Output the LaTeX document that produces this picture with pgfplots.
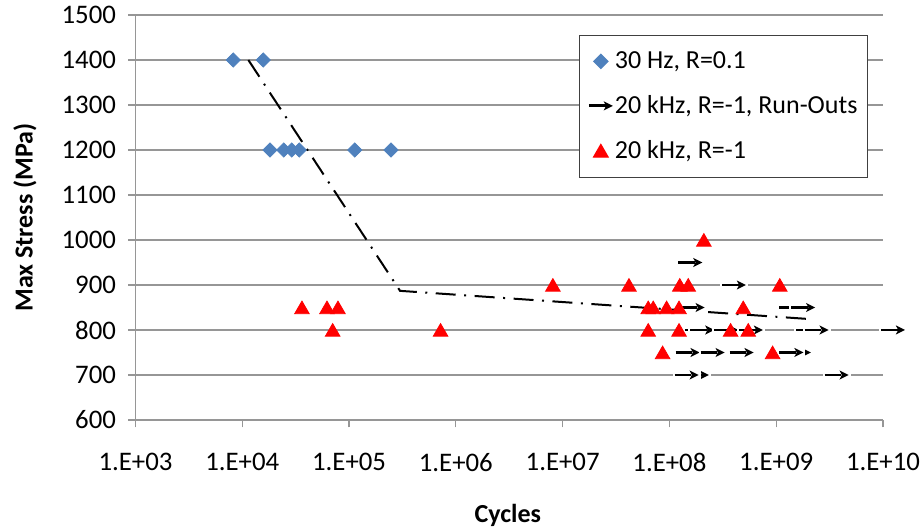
\documentclass[border=0pt]{standalone}
\usepackage{fontspec}
\setmainfont{Carlito}
\usepackage{pgfplots}
\pgfplotsset{compat=1.18}
\definecolor{xblue}{RGB}{79,129,189}
\definecolor{xred}{RGB}{255,0,0}
\definecolor{xgray}{RGB}{150,150,150}
\definecolor{xlegend}{RGB}{64,64,64}

\pgfdeclareplotmark{runout}{%
  \pgfinterruptboundingbox
  \pgfpathrectangle{\pgfpoint{-7pt}{-4pt}}{\pgfpoint{14pt}{8pt}}%
  \pgfsetfillcolor{white}\pgfusepath{fill}%
  \endpgfinterruptboundingbox
  \pgfsetlinewidth{1.45pt}\pgfsetbuttcap
  \pgfsetstrokecolor{black}\pgfsetfillcolor{black}%
  \pgfpathmoveto{\pgfpoint{-6pt}{0pt}}\pgfpathlineto{\pgfpoint{2.4pt}{0pt}}\pgfusepath{stroke}%
  \pgfpathmoveto{\pgfpoint{6pt}{0pt}}\pgfpathlineto{\pgfpoint{1.4pt}{2.3pt}}%
  \pgfpathlineto{\pgfpoint{2.6pt}{0pt}}\pgfpathlineto{\pgfpoint{1.4pt}{-2.3pt}}\pgfpathclose
  \pgfusepath{fill}%
}
\pgfplotsset{mylegimg/.style={legend image code/.code={\draw[mark repeat=2,mark phase=2,##1] plot coordinates {(0pt,0pt) (6pt,0pt) (12pt,0pt)};}}}

\begin{document}
\begin{tikzpicture}
\begin{axis}[
  name=ax,
  xmode=log, log basis x=10,
  scale only axis, width=373.75pt, height=202.5pt,
  xmin=1e3, xmax=1e10, ymin=600, ymax=1500,
  xtick={1e3,1e4,1e5,1e6,1e7,1e8,1e9,1e10},
  xticklabels={1.E+03,1.E+04,1.E+05,1.E+06,1.E+07,1.E+08,1.E+09,1.E+10},
  xminorticks=false,
  ytick={600,700,...,1500},
  ymajorgrids, major grid style={xgray, line width=0.6pt},
  axis x line*=bottom, axis y line*=left,
  axis line style={xgray, line width=0.6pt, -},
  tick align=outside, major tick length=3.75pt,
  major tick style={xgray, line width=0.6pt},
  tick label style={font=\fontsize{13.4}{15}\selectfont},
  xticklabel style={font=\fontsize{13.4}{15}\selectfont, yshift=-9.5pt},
  yticklabel style={font=\fontsize{13.4}{15}\selectfont, xshift=-2.5pt},
  /pgf/number format/assume math mode=true, /pgf/number format/1000 sep={},
  xlabel={Cycles}, ylabel={Max Stress (MPa)},
  label style={font=\fontsize{13}{15}\selectfont\bfseries},
  xlabel style={at={(axis description cs:0.498,-0.2346)}, anchor=center},
  ylabel style={at={(axis description cs:-0.1478,0.5)}, anchor=center},
  clip=false,
  legend cell align=left,
  legend style={at={(0.98,0.951)}, anchor=north east, draw=xlegend, line width=0.6pt,
    font=\fontsize{13}{15}\selectfont, inner xsep=4pt, inner ysep=6pt,
    row sep=8pt, nodes={inner xsep=1pt, inner ysep=2pt}},
]
\addplot[black, line width=1pt, dash pattern=on 10pt off 4.25pt on 1pt off 4.25pt, forget plot]
  coordinates {(1.14e4,1400) (3.0e5,887) (2.14e9,824)};

\addplot[only marks, mylegimg, mark=square*, mark size=2.5pt, mark options={rotate=45, fill=xblue, draw=xblue}]
  coordinates {
  (8.24e3,1400) (1.57e4,1400)
  (1.82e4,1200) (2.45e4,1200) (2.90e4,1200) (3.42e4,1200) (1.13e5,1200) (2.47e5,1200)
  };
\addlegendentry{30 Hz, R=0.1}

\addplot[only marks, mylegimg, mark=runout]
  coordinates {
  (1.57e8,950)
  (4.02e8,900)
  (1.65e8,850) (1.39e9,850) (1.79e9,850)
  (1.81e8,800) (2.03e8,800) (3.41e8,800) (5.8e8,800) (2.0e9,800) (2.39e9,800) (1.24e10,800)
  (1.48e8,750) (2.54e8,750) (4.74e8,750) (1.63e9,750) (1.39e9,750)
  (1.81e8,700) (1.45e8,700) (3.68e9,700)
  };
\addlegendentry{20 kHz, R=-1, Run-Outs}

\addplot[only marks, mylegimg, mark=triangle*, mark size=4.2pt, mark options={fill=xred, draw=xred, yshift=-1pt}]
  coordinates {
  (3.62e4,850) (6.21e4,850) (7.87e4,850) (7.02e4,800) (7.19e5,800)
  (8.1e6,900) (4.18e7,900) (1.25e8,900) (1.50e8,900) (1.08e9,900)
  (2.10e8,1000)
  (6.33e7,850) (7.05e7,850) (9.41e7,850) (1.23e8,850) (4.91e8,850)
  (6.33e7,800) (1.23e8,800) (3.74e8,800) (5.47e8,800)
  (8.63e7,750) (9.25e8,750)
  };
\addlegendentry{20 kHz, R=-1}
\coordinate (bl) at (rel axis cs:0,0);
\coordinate (tr) at (rel axis cs:1,1);
\end{axis}
\pgfresetboundingbox
\path ([xshift=-67.75pt,yshift=-55.5pt]bl) rectangle ([xshift=20.5pt,yshift=7.5pt]tr);
\end{tikzpicture}
\end{document}
